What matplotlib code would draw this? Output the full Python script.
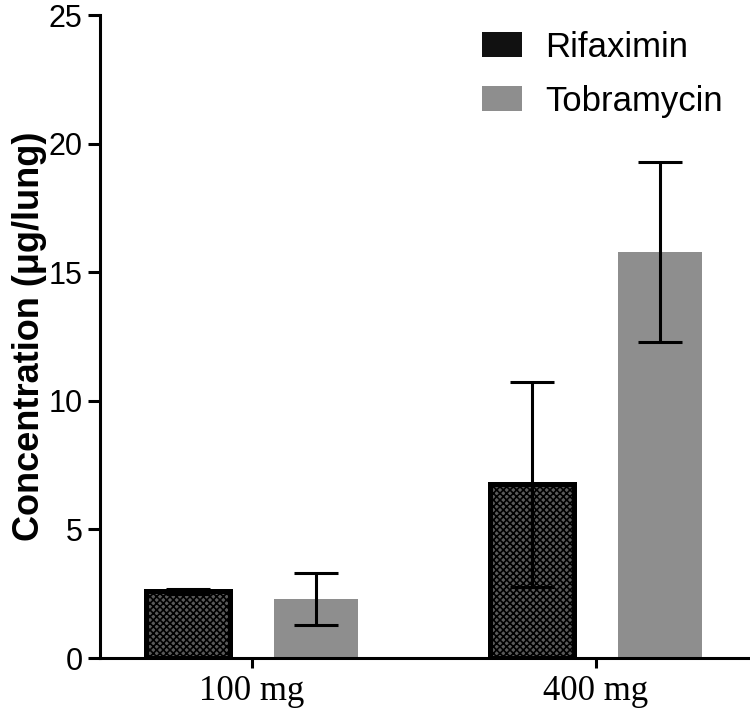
import numpy as np
import matplotlib
matplotlib.use("Agg")
import matplotlib.pyplot as plt
from matplotlib.patches import Patch

groups = ["100 mg", "400 mg"]
series = ["Rifaximin", "Tobramycin"]
rif_mean = [2.6, 6.75]
rif_err = [0.1, 4.0]
tob_mean = [2.3, 15.8]
tob_err = [1.0, 3.5]

plt.rcParams['font.family'] = ['Liberation Sans', 'DejaVu Sans']
plt.rcParams['hatch.linewidth'] = 1.2

fig = plt.figure(figsize=(7.5, 7.13), dpi=100)
ax = fig.add_axes([100 / 750, 1 - 658 / 713, 649 / 750, 643 / 713])

x = np.arange(len(groups))
w = 0.245
off = 0.187

ax.bar(x - off, rif_mean, w, facecolor="#5a5a5a", edgecolor="black",
       hatch="xxxxx", linewidth=3.6, zorder=2)
ax.bar(x + off, tob_mean, w, color="#8e8e8e", zorder=2)
ax.errorbar(x - off, rif_mean, yerr=rif_err, fmt="none", ecolor="black",
            elinewidth=2.2, capsize=15.5, capthick=2.2, zorder=3)
ax.errorbar(x + off, tob_mean, yerr=tob_err, fmt="none", ecolor="black",
            elinewidth=2.2, capsize=15.5, capthick=2.2, zorder=3)

ax.set_xlim(-0.442, 1.445)
ax.set_ylim(0, 25)
ax.set_yticks([0, 5, 10, 15, 20, 25])
ax.set_xticks(x)
ax.set_xticklabels(groups, family=["Liberation Serif", "DejaVu Serif"], fontsize=25)

for s in ["top", "right"]:
    ax.spines[s].set_visible(False)
for s in ["left", "bottom"]:
    ax.spines[s].set_linewidth(2.2)
ax.tick_params(axis="y", labelsize=22, width=2.2, length=8.5, pad=4)
ax.tick_params(axis="x", width=2.2, length=7.5, pad=5)

ax.set_ylabel("Concentration (μg/lung)", fontsize=26, fontweight="bold", labelpad=1)

# legend proxies
handles = [Patch(facecolor="#111111", edgecolor="none", label=series[0]),
           Patch(facecolor="#8e8e8e", edgecolor="none", label=series[1])]
ax.legend(handles=handles, loc="upper left", bbox_to_anchor=(482 / 750, 1 - 31 / 713),
          bbox_transform=fig.transFigure, frameon=False, fontsize=25,
          handlelength=1.15, handleheight=0.72, handletextpad=0.66,
          labelspacing=0.6, borderaxespad=0, borderpad=0)

fig.savefig("out.png", dpi=100)
